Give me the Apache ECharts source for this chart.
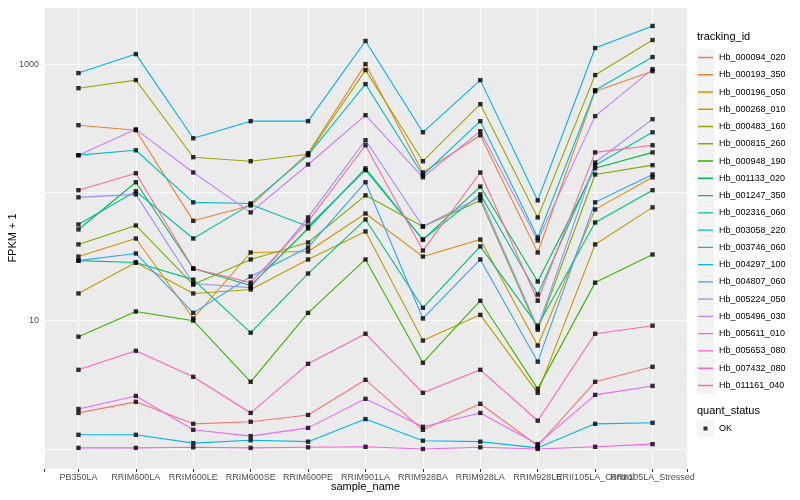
<!DOCTYPE html>
<html>
<head>
<meta charset="utf-8">
<script src="https://cdn.jsdelivr.net/npm/echarts@6/dist/echarts.min.js"></script>
<style>html,body{margin:0;padding:0;background:#fff}#c{width:800px;height:500px}</style>
</head>
<body>
<div id="c"></div>
<script>
const categories = ['PB350LA','RRIM600LA','RRIM600LE','RRIM600SE','RRIM600PE','RRIM901LA','RRIM928BA','RRIM928LA','RRIM928LE','RRII105LA_Control','RRII105LA_Stressed'];

const trackingIds = ['Hb_000094_020','Hb_000193_350','Hb_000196_050','Hb_000268_010','Hb_000483_160','Hb_000815_260','Hb_000948_190','Hb_001133_020','Hb_001247_350','Hb_002316_060','Hb_003058_220','Hb_003746_060','Hb_004297_100','Hb_004807_060','Hb_005224_050','Hb_005496_030','Hb_005611_010','Hb_005653_080','Hb_007432_080','Hb_011161_040'];

const colors = ['#F8766D','#EA8331','#D89000','#C09B00','#A3A500','#7CAE00','#39B600','#00BB4E','#00BF7D','#00C1A3','#00BFC4','#00BAE0','#00B0F6','#35A2FF','#9590FF','#C77CFF','#E76BF3','#FA62DB','#FF62BC','#FF6A98'];

// FPKM + 1 values per series, in category order
const Hb_000094_020 = [1.91,2.33,1.57,1.63,1.84,3.46,1.41,2.25,1.06,3.34,4.37];
const Hb_000193_350 = [334,305,60,79,202,1000,143,279,34,615,881];
const Hb_000196_050 = [31.6,43.7,10.4,34,34.6,68.5,31.6,42.9,6.4,73.7,131];
const Hb_000268_010 = [16.3,28.4,16.3,17.5,30,49.6,7.0,11.1,2.74,39.3,76.4];
const Hb_000483_160 = [649,750,188,175,198,898,175,487,63.8,821,1540];
const Hb_000815_260 = [39.3,55.2,19.1,30,40.7,94.8,54.2,86.6,8.5,138,163];
const Hb_000948_190 = [7.5,11.8,10,3.34,11.5,30,4.7,14.3,2.94,19.8,32.8];
const Hb_001133_020 = [51.4,120,25.5,18.8,52.3,154,42.9,111,20.2,154,205];
const Hb_001247_350 = [29.4,28.4,20.9,8.06,23.3,61.5,12.6,37.9,9.14,58.3,104];
const Hb_002316_060 = [56.2,102,43.7,80.6,54.2,149,42.9,96.5,16,163,294];
const Hb_003058_220 = [195,213,83.6,82,195,698,136,359,44.5,626,1135];
const Hb_003746_060 = [1.29,1.29,1.11,1.17,1.14,1.71,1.16,1.14,1.02,1.57,1.6];
const Hb_004297_100 = [851,1197,264,359,359,1514,294,750,86.6,1334,1982];
const Hb_004807_060 = [29.4,33.4,11.5,22.1,37.2,120,10.4,30,4.79,83.6,138];
const Hb_005224_050 = [91.5,96.5,19.5,18.1,63.8,255,54.2,91.5,8.82,171,372];
const Hb_005496_030 = [195,310,143,69.8,165,400,131,300,42.2,393,914];
const Hb_005611_010 = [2.05,2.59,1.41,1.26,1.46,2.46,1.49,1.91,1.09,2.64,3.1];
const Hb_005653_080 = [1.02,1.02,1.03,1.02,1.03,1.04,1.0,1.03,1.0,1.04,1.09];
const Hb_007432_080 = [4.14,5.83,3.65,1.91,4.61,7.91,2.74,4.14,1.66,7.91,9.14];
const Hb_011161_040 = [104,141,25.5,19.8,59.4,233,35.2,143,14.3,205,233];

const seriesValues = [Hb_000094_020,Hb_000193_350,Hb_000196_050,Hb_000268_010,Hb_000483_160,Hb_000815_260,Hb_000948_190,Hb_001133_020,Hb_001247_350,Hb_002316_060,Hb_003058_220,Hb_003746_060,Hb_004297_100,Hb_004807_060,Hb_005224_050,Hb_005496_030,Hb_005611_010,Hb_005653_080,Hb_007432_080,Hb_011161_040];

const yLabels = [10, 1000];
const statusName = 'OK';

const FONT = '"Liberation Sans", Arial, Helvetica, sans-serif';

const lineSeries = trackingIds.map((id, k) => ({
  name: id,
  type: 'line',
  color: colors[k],
  data: seriesValues[k].map((v, i) => [i, v]),
  symbol: 'none',
  showSymbol: false,
  lineStyle: { width: 1.1, color: colors[k] },
  z: 2,
  silent: true
}));

const points = [];
seriesValues.forEach(vals => vals.forEach((v, i) => points.push([i, v])));

const pointSeries = {
  name: statusName,
  type: 'scatter',
  data: points,
  symbol: 'rect',
  symbolSize: 4.4,
  itemStyle: { color: '#000000' },
  z: 5,
  silent: true
};

const keyBox = 'rect';
const lineIcon = 'path://M0,0L0.01,0L0,0.01ZM17,17L16.99,17L17,16.99ZM1,7.8H16V9.2H1Z';
const dotIcon = 'path://M0,0L0.01,0L0,0.01ZM17,17L16.99,17L17,16.99ZM6.5,6.5H10.5V10.5H6.5Z';

const chart = echarts.init(document.getElementById('c'), null, { renderer: 'canvas' });
chart.setOption({
  animation: false,
  backgroundColor: '#FFFFFF',
  textStyle: { fontFamily: FONT },
  title: [
    { text: 'tracking_id', left: 697, top: 31, padding: 0, textStyle: { fontSize: 11, fontWeight: 'normal', color: '#000', fontFamily: FONT } },
    { text: 'quant_status', left: 697, top: 405, padding: 0, textStyle: { fontSize: 11, fontWeight: 'normal', color: '#000', fontFamily: FONT } }
  ],
  grid: {
    left: 44, right: 113, top: 7, bottom: 31,
    outerBoundsMode: 'none',
    containLabel: false,
    show: true, backgroundColor: '#EBEBEB', borderWidth: 0
  },
  xAxis: {
    type: 'value',
    min: -0.6, max: 10.6,
    minInterval: 1, maxInterval: 1,
    name: 'sample_name',
    nameLocation: 'middle',
    nameMoveOverlap: false,
    nameGap: 12,
    nameTextStyle: { fontSize: 11, color: '#000', fontFamily: FONT },
    axisLine: { show: false },
    axisTick: { show: true, length: 3, lineStyle: { color: '#333333', width: 1 } },
    axisLabel: {
      margin: 4, fontSize: 9, color: '#4D4D4D', fontFamily: FONT,
      showMinLabel: true, showMaxLabel: true,
      formatter: v => {
        const r = Math.round(v);
        return (Math.abs(v - r) < 1e-6 && r >= 0 && r < categories.length) ? categories[r] : '';
      }
    },
    splitLine: { show: true, lineStyle: { color: '#FFFFFF', width: 1.1 } }
  },
  yAxis: {
    type: 'log',
    logBase: 10,
    min: 0.698, max: 2786,
    name: 'FPKM + 1',
    nameLocation: 'middle',
    nameMoveOverlap: false,
    nameGap: 26,
    nameRotate: 90,
    nameTextStyle: { fontSize: 11, color: '#000', fontFamily: FONT },
    axisLine: { show: false },
    axisTick: { show: false },
    axisLabel: {
      margin: 5, fontSize: 9, color: '#4D4D4D', fontFamily: FONT,
      formatter: v => {
        for (const t of yLabels) { if (Math.abs(v - t) / t < 1e-6) return String(t); }
        return '';
      }
    },
    splitLine: { show: true, lineStyle: { color: '#FFFFFF', width: 1.1 } }
  },
  legend: [
    {
      left: 697, top: 49, orient: 'vertical', padding: 0,
      itemWidth: 17, itemHeight: 17, itemGap: 0.26,
      icon: keyBox, data: trackingIds.slice(),
      formatter: () => '',
      itemStyle: { color: '#F2F2F2', borderWidth: 0, borderColor: '#F2F2F2' },
      selectedMode: false, z: 3
    },
    {
      left: 697, top: 49, orient: 'vertical', padding: 0,
      itemWidth: 17, itemHeight: 17, itemGap: 0.26, itemTextGap: 3,
      icon: lineIcon, data: trackingIds.slice(),
      itemStyle: { borderWidth: 0 },
      textStyle: { fontSize: 9, color: '#000', fontFamily: FONT },
      selectedMode: false, z: 4
    },
    {
      left: 697, top: 420, orient: 'vertical', padding: 0,
      itemWidth: 17, itemHeight: 17, icon: keyBox, data: [statusName],
      formatter: () => '',
      itemStyle: { color: '#F2F2F2', borderWidth: 0, borderColor: '#F2F2F2' },
      selectedMode: false, z: 3
    },
    {
      left: 697, top: 420, orient: 'vertical', padding: 0,
      itemWidth: 17, itemHeight: 17, itemTextGap: 3, icon: dotIcon, data: [statusName],
      itemStyle: { color: '#000', borderWidth: 0 },
      textStyle: { fontSize: 9, color: '#000', fontFamily: FONT },
      selectedMode: false, z: 4
    }
  ],
  series: lineSeries.concat([pointSeries])
});
</script>
</body>
</html>
